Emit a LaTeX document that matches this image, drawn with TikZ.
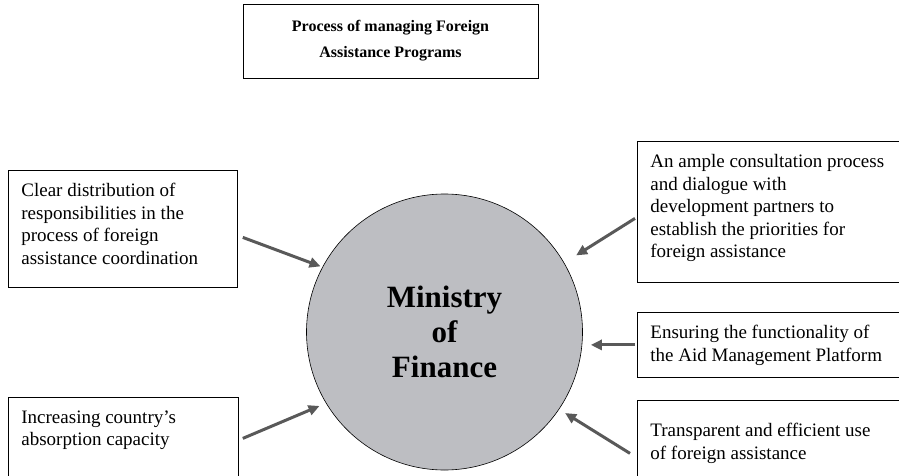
\documentclass[tikz,border=0pt]{standalone}
\usepackage{fontspec}
\setmainfont{Liberation Serif}
\usetikzlibrary{arrows.meta}

\definecolor{circlegray}{RGB}{189,190,194}
\definecolor{arrowgray}{RGB}{89,89,89}
\newcommand{\boxtext}[3]{\parbox[c][#2][t]{#1}{\raggedright #3}}

\tikzset{
  infobox/.style={draw, line width=0.8pt, anchor=north west, inner xsep=13pt, inner ysep=13pt,
    font=\fontsize{19}{22.5}\selectfont},
  titlebox/.style={draw, line width=0.8pt, align=center, minimum width=295pt, minimum height=74pt,
    font=\bfseries\fontsize{16}{26}\selectfont},
  ministry/.style={circle, draw, line width=0.6pt, fill=circlegray, minimum size=276pt, align=center,
    font=\bfseries\fontsize{31}{35}\selectfont},
  push/.style={draw=arrowgray, line width=3pt, -{Triangle[length=11pt,width=10pt]}}
}

\begin{document}
\begin{tikzpicture}[x=1pt, y=-1pt]
    \useasboundingbox (0, 0) rectangle (899, 476);
    \clip (0, 0) rectangle (899, 476);
    \node[titlebox] (title) at (390.5, 41) {Process of managing Foreign\\Assistance Programs};
    \node[ministry] (mof) at (444.5, 332) {Ministry\\of\\Finance};
    % boxes on the left
    \node[infobox] (clear) at (8, 170) {\boxtext{203pt}{91pt}{Clear distribution of\\responsibilities in the\\process of foreign\\assistance coordination}};
    \node[infobox] (absorb) at (8, 397) {\boxtext{204pt}{80pt}{Increasing country's\\absorption capacity}};
    % boxes on the right
    \node[infobox] (consult) at (637, 141) {\boxtext{270pt}{115pt}{An ample consultation process\\and dialogue with\\development partners to\\establish the priorities for\\foreign assistance}};
    \node[infobox] (amp) at (637, 312) {\boxtext{270pt}{39pt}{Ensuring the functionality of\\the Aid Management Platform}};
    \node[infobox, inner ysep=23pt] (transp) at (637, 400) {\boxtext{270pt}{60pt}{Transparent and efficient use\\of foreign assistance}};
    \draw[push, shorten >=2pt] ([shift={(5, 8.5)}]clear.east) -- (mof.152);
    \draw[push, shorten >=7pt] ([shift={(4, -12)}]absorb.east) -- (mof.211);
    \draw[push, shorten >=14pt] ([shift={(-2, 6.5)}]consult.west) -- (mof.30);
    \draw[push, shorten >=8pt] ([xshift=-2pt]amp.west) -- (amp.west -| mof.east);
    \draw[push, shorten >=7pt] ([shift={(-7, 0)}]transp.west) -- (mof.-34);
  \end{tikzpicture}
\end{document}
